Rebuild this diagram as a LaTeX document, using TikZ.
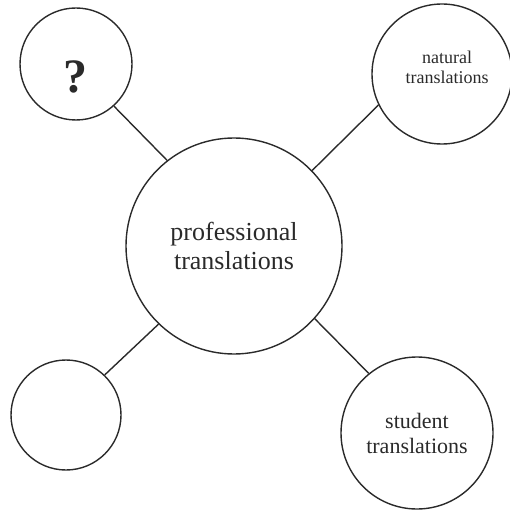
\documentclass[tikz,border=0pt]{standalone}
\usepackage{fontspec}
\setmainfont{Liberation Serif}
\definecolor{ink}{HTML}{2A2A2A}
\tikzset{
	bubble/.style={draw=ink, circle, line width=1.4pt, inner sep=0pt, text=ink, align=center},
	link/.style={draw=ink, line width=1.4pt}
}
\begin{document}
\begin{tikzpicture}[x=1pt,y=-1pt]
	\useasboundingbox (0,0) rectangle (510,510);
	%centre circle
		\node[bubble, minimum size=216pt, font=\fontsize{26}{29}\selectfont] (prof) at (234,246) {professional\\translations};
	%outer circles
		\node[bubble, minimum size=112pt] (unknown) at (76,64) {};
		\node[text=ink, font=\fontsize{48}{48}\selectfont\bfseries] (qmark) at (75,77) {?};
		\node[bubble, minimum size=140pt] (natural) at (442,74) {};
		\node[text=ink, align=center, font=\fontsize{18}{20}\selectfont] (naturaltext) at (447,67) {natural\\translations};
		\node[bubble, minimum size=110pt] (empty) at (66,415) {};
		\node[bubble, minimum size=152pt, font=\fontsize{22}{25}\selectfont] (student) at (417,433) {student\\translations};
	%links
		\draw[link] (unknown.-48) -- (prof.128);
		\draw[link] (natural.-154) -- (prof.44);
		\draw[link] (empty.46) -- (prof.-134);
		\draw[link] (student.129) -- (prof.-42);
\end{tikzpicture}
\end{document}
